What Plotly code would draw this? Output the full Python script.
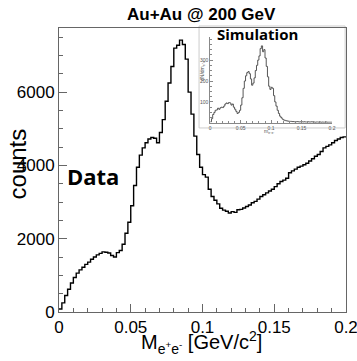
import numpy as np
import plotly.graph_objects as go

# ---- data ----
bin_width = 0.002
data_counts = [80, 250, 450, 620, 790, 940, 1060, 1150, 1220, 1300,
               1360, 1440, 1500, 1560, 1600, 1640, 1630, 1610, 1540, 1500,
               1620, 1680, 1850, 2150, 2450, 2900, 3450, 3950, 4280, 4480,
               4620, 4720, 4760, 4740, 4620, 4900, 5250, 5750, 6250, 6700,
               7200, 7280, 7420, 7300, 6900, 6000, 5400, 4800, 4300, 3950,
               3750, 3680, 3350, 3150, 3050, 2950, 2830, 2780, 2750, 2700,
               2740, 2720, 2790, 2800, 2840, 2880, 2920, 2980, 3020, 3080,
               3150, 3200, 3250, 3300, 3350, 3420, 3500, 3560, 3600, 3650,
               3800, 3850, 3900, 3950, 3980, 4020, 4060, 4120, 4180, 4250,
               4300, 4380, 4480, 4520, 4560, 4620, 4680, 4720, 4760, 4780]

sim_counts = [5, 20, 40, 50, 60, 62, 70, 65, 72, 75,
              73, 80, 90, 95, 92, 97, 95, 85, 90, 75,
              65, 55, 45, 50, 60, 85, 120, 165, 200, 225,
              240, 245, 235, 210, 180, 190, 215, 250, 275, 300,
              320, 355, 368, 340, 350, 310, 270, 220, 175, 160,
              170, 165, 130, 100, 80, 60, 45, 32, 25, 18,
              14, 12, 10, 9, 8, 7, 7, 6, 6, 5,
              5, 6, 5, 4, 5, 5, 4, 5, 4, 4,
              5, 4, 4, 5, 4, 4, 3, 4, 4, 3,
              4, 3, 4, 3, 3, 4, 3, 3, 3, 3]

x_ticks = [0, 0.05, 0.1, 0.15, 0.2]
x_tick_text = ["0", "0.05", "0.1", "0.15", "0.2"]
y_ticks = [0, 2000, 4000, 6000]
inset_y_ticks = [100, 200, 300]

edges = np.arange(len(data_counts) + 1) * bin_width


def step(vals):
    return list(vals) + [vals[-1]]


fig = go.Figure()
fig.add_trace(go.Scatter(x=edges, y=step(data_counts), mode="lines",
                         line=dict(color="black", width=1.4, shape="hv"),
                         xaxis="x", yaxis="y", showlegend=False, hoverinfo="skip"))
fig.add_trace(go.Scatter(x=edges, y=step(sim_counts), mode="lines",
                         line=dict(color="#444", width=0.9, shape="hv"),
                         xaxis="x2", yaxis="y2", showlegend=False, hoverinfo="skip"))

font_main = "Liberation Sans, Arial, sans-serif"

fig.update_layout(
    width=357, height=361,
    margin=dict(l=59, r=11, t=28, b=49, autoexpand=False),
    paper_bgcolor="white", plot_bgcolor="white",
    xaxis=dict(range=[0, 0.2], tickvals=x_ticks, ticktext=x_tick_text,
               ticks="inside", ticklen=8, tickcolor="#666", tickwidth=1,
               minor=dict(ticks="inside", dtick=0.01, ticklen=4, tickcolor="#666"),
               showline=True, linecolor="#666", linewidth=1, mirror=True,
               showgrid=False, zeroline=False, automargin=False,
               ticklabeloverflow="allow",
               tickfont=dict(family=font_main, size=17, color="black")),
    yaxis=dict(range=[0, 7750], tickvals=y_ticks,
               ticks="inside", ticklen=8, tickcolor="#666", tickwidth=1,
               minor=dict(ticks="inside", dtick=500, ticklen=4, tickcolor="#666"),
               showline=True, linecolor="#666", linewidth=1, mirror=True,
               showgrid=False, zeroline=False, automargin=False,
               ticklabeloverflow="allow",
               tickfont=dict(family=font_main, size=17, color="black")),
    xaxis2=dict(domain=[0.527, 0.951], anchor="y2", range=[0, 0.2],
                tickvals=x_ticks, ticktext=x_tick_text,
                ticks="inside", ticklen=3, tickcolor="#888",
                minor=dict(ticks="inside", dtick=0.01, ticklen=1.5, tickcolor="#888"),
                showline=True, linecolor="#888", linewidth=1,
                showgrid=False, zeroline=False, automargin=False,
                tickfont=dict(family=font_main, size=5, color="#555")),
    yaxis2=dict(domain=[0.666, 0.968], anchor="x2", range=[0, 410],
                tickvals=inset_y_ticks,
                ticks="inside", ticklen=3, tickcolor="#888",
                minor=dict(ticks="inside", dtick=25, ticklen=1.5, tickcolor="#888"),
                showline=True, linecolor="#888", linewidth=1,
                showgrid=False, zeroline=False, automargin=False,
                tickfont=dict(family=font_main, size=5, color="#555")),
    shapes=[dict(type="rect", xref="paper", yref="paper",
                 x0=0.488, x1=0.997, y0=0.648, y1=1.007,
                 line=dict(color="#cccccc", width=1), fillcolor="white",
                 layer="below")],
    annotations=[
        dict(text="<b>Au+Au @ 200 GeV</b>", xref="paper", yref="paper",
             x=0.498, y=1.046, showarrow=False, xanchor="center", yanchor="middle",
             font=dict(family=font_main, size=17, color="black")),
        dict(text="<b>Data</b>", xref="paper", yref="paper",
             x=0.118, y=0.479, showarrow=False, xanchor="center", yanchor="middle",
             font=dict(family="Open Sans, sans-serif", size=22, color="black")),
        dict(text="counts", xref="paper", yref="paper", textangle=-90,
             x=-0.146, y=0.52, showarrow=False, xanchor="center", yanchor="middle",
             font=dict(family=font_main, size=24, color="black")),
        dict(text="M<sub>e<sup>+</sup>e<sup>-</sup></sub> [GeV/c<sup>2</sup>]",
             xref="paper", yref="paper",
             x=0.495, y=-0.108, showarrow=False, xanchor="center", yanchor="middle",
             font=dict(family=font_main, size=20, color="black")),
        dict(text="<b>Simulation</b>", xref="paper", yref="paper",
             x=0.69, y=0.98, showarrow=False, xanchor="center", yanchor="middle",
             font=dict(family="Open Sans, sans-serif", size=15, color="black")),
        dict(text="dN/dm<sub>e<sup>+</sup>e<sup>-</sup></sub>", xref="paper", yref="paper",
             textangle=-90, x=0.498, y=0.852, showarrow=False,
             xanchor="center", yanchor="middle",
             font=dict(family=font_main, size=5, color="#555")),
        dict(text="m<sub>e<sup>+</sup>e<sup>-</sup></sub>", xref="paper", yref="paper",
             x=0.735, y=0.637, showarrow=False, xanchor="center", yanchor="middle",
             font=dict(family=font_main, size=5, color="#555")),
    ],
)

fig.write_html("out.html", config={"displayModeBar": False},
               post_script="document.body.style.margin='0';document.body.style.padding='0';")
